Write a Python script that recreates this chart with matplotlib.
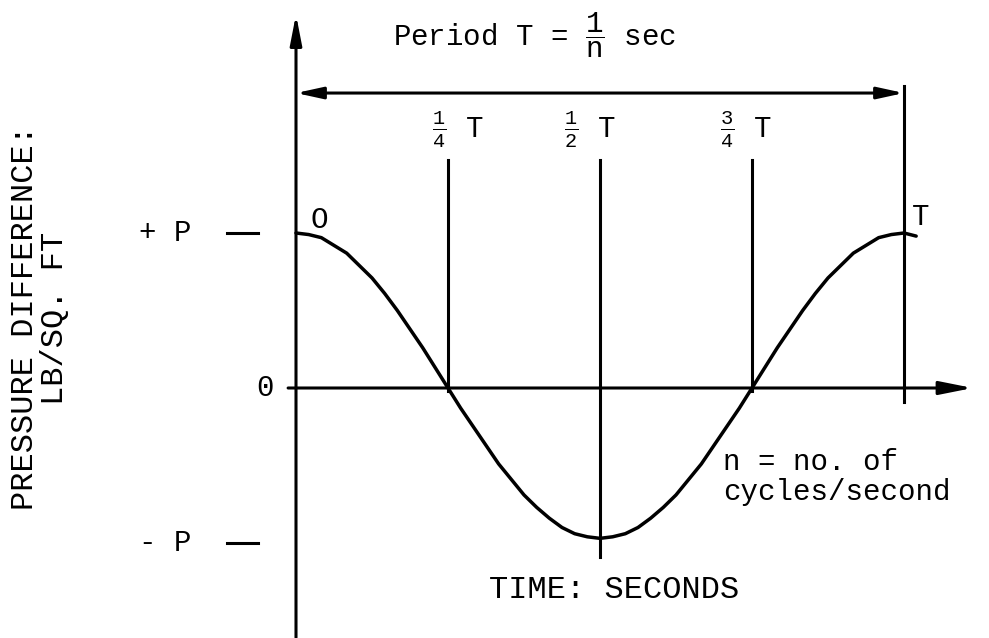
import numpy as np
import matplotlib
matplotlib.use("Agg")
import matplotlib.pyplot as plt

plt.rcParams['font.family'] = ['Liberation Mono', 'DejaVu Sans']
plt.rcParams['mathtext.fontset'] = 'custom'
plt.rcParams['mathtext.rm'] = 'Liberation Mono'
plt.rcParams['mathtext.it'] = 'Liberation Mono'
plt.rcParams['mathtext.bf'] = 'Liberation Mono'

# time in units of the period T, pressure in units of P
curve_t = np.linspace(0, 1, 49).tolist() + [1.02]
curve_p = [1.00, 0.99, 0.97, 0.92, 0.87, 0.79, 0.71, 0.61, 0.50, 0.38, 0.26, 0.13,
           0.00, -0.13, -0.25, -0.37, -0.49, -0.59, -0.69, -0.77, -0.84, -0.90,
           -0.94, -0.96, -0.97, -0.96, -0.94, -0.90, -0.84, -0.77, -0.69, -0.59,
           -0.49, -0.37, -0.25, -0.13, 0.00, 0.13, 0.26, 0.38, 0.50, 0.61,
           0.71, 0.79, 0.87, 0.92, 0.97, 0.99, 1.00, 0.98]

mark_t = [0.25, 0.5, 0.75]
mark_labels = [r'$\frac{1}{4}$ T', r'$\frac{1}{2}$ T', r'$\frac{3}{4}$ T']
mark_label_t = [0.266, 0.484, 0.740]
mark_bottom = [-0.02, -1.09, -0.02]
mark_top = 1.47

level_p = [1, 0, -1]
level_labels = ['+ P', '0', '- P']

period_label = r'Period T = $\dfrac{1}{n}$ sec'
x_label = 'TIME: SECONDS'
y_label = 'PRESSURE DIFFERENCE:\nLB/SQ. FT'
note = 'n = no. of\ncycles/second'

LW = 2.2


def arrow(ax, start, end, style, scale=10):
    ax.annotate('', xy=end, xytext=start,
                arrowprops=dict(arrowstyle=style, lw=LW, color='black',
                                shrinkA=0, shrinkB=0, mutation_scale=scale))


def main():
    fig = plt.figure(figsize=(9.89, 6.38), dpi=100)
    ax = fig.add_axes([0, 0, 1, 1])
    ax.set_xlim(-296 / 608, (989 - 296) / 608)
    ax.set_ylim((388 - 638) / 155, 388 / 155)
    ax.axis('off')

    # axes with arrows
    arrow(ax, (0, -1.61), (0, 2.41), '-|>,head_length=1.8,head_width=0.35')
    arrow(ax, (-0.013, 0), (1.113, 0), '-|>,head_length=2.0,head_width=0.4')

    # period span
    arrow(ax, (0, 1.903), (1, 1.903), '<|-|>,head_length=1.6,head_width=0.35')
    ax.plot([1, 1], [1.948, -0.09], color='black', lw=LW)

    # quarter period markers
    for t, lab, lt, yb in zip(mark_t, mark_labels, mark_label_t, mark_bottom):
        ax.plot([t, t], [mark_top, yb], color='black', lw=LW)
        ax.text(lt, 1.665, lab, fontsize=21, ha='center', va='center')

    # level ticks on the pressure axis
    for p, lab in zip(level_p, level_labels):
        if p == 0:
            ax.text(-0.051, p, lab, fontsize=21, ha='center', va='center')
        else:
            ax.plot([-0.113, -0.0625], [p, p], color='black', lw=LW)
            ax.text(-0.215, p, lab, fontsize=21, ha='center', va='center')

    # pressure wave
    ax.plot(curve_t, curve_p, color='black', lw=LW + 0.3,
            solid_joinstyle='round', solid_capstyle='round')
    ax.text(0.039, 1.084, 'O', fontsize=21, ha='center', va='center')
    ax.text(1.028, 1.103, 'T', fontsize=21, ha='center', va='center')

    ax.text(0.1595, 2.2, period_label, fontsize=21, ha='left', va='baseline')
    ax.text(0.702, -0.574, note, fontsize=21, ha='left', va='center',
            linespacing=1.05)
    ax.text(0.523, -1.303, x_label, fontsize=23, ha='center', va='center')
    ax.text(-0.421, 0.452, y_label, fontsize=23, ha='center', va='center',
            rotation=90, multialignment='center', linespacing=1.0)

    fig.savefig('out.png', dpi=100)
    return 0


main()
